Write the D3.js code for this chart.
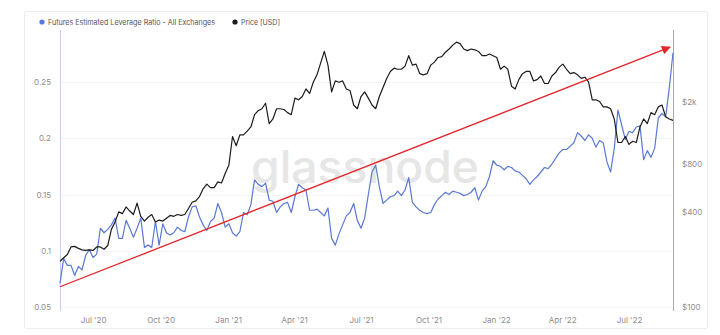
<!DOCTYPE html>
<html>
<head>
<meta charset="utf-8">
<script src="https://cdn.jsdelivr.net/npm/d3@7"></script>
<style>
  html, body { margin: 0; padding: 0; background: #fff; }
  svg { display: block; font-family: Inter, "Noto Sans", sans-serif; }
</style>
</head>
<body>
<svg id="chart" width="720" height="335"></svg>
<script>
// Sampling: one value every 5 days starting from the first day
const firstDay = "2020-05-17";
const stepDays = 5;

// Futures Estimated Leverage Ratio - All Exchanges (ETH)
const leverage = [
  0.071,0.093,0.087,0.087,0.078,0.086,0.083,0.096,0.101,0.094,
  0.097,0.120,0.116,0.119,0.123,0.129,0.111,0.111,0.127,0.120,
  0.112,0.120,0.129,0.103,0.105,0.103,0.126,0.105,0.124,0.116,
  0.114,0.116,0.121,0.118,0.117,0.130,0.139,0.140,0.130,0.123,
  0.118,0.126,0.129,0.142,0.134,0.121,0.124,0.116,0.113,0.117,
  0.134,0.132,0.141,0.163,0.159,0.157,0.160,0.145,0.144,0.134,
  0.139,0.142,0.143,0.134,0.148,0.159,0.156,0.154,0.136,0.136,
  0.137,0.134,0.131,0.138,0.111,0.105,0.115,0.123,0.131,0.134,
  0.142,0.127,0.120,0.129,0.150,0.170,0.176,0.157,0.142,0.145,
  0.148,0.149,0.153,0.149,0.154,0.165,0.143,0.139,0.136,0.134,
  0.133,0.134,0.141,0.146,0.149,0.152,0.150,0.153,0.152,0.151,
  0.149,0.150,0.152,0.156,0.145,0.153,0.157,0.166,0.180,0.176,
  0.175,0.172,0.175,0.174,0.171,0.170,0.167,0.164,0.159,0.163,
  0.166,0.170,0.174,0.173,0.177,0.182,0.187,0.190,0.190,0.193,
  0.196,0.205,0.202,0.198,0.203,0.200,0.192,0.198,0.196,0.179,
  0.170,0.191,0.225,0.212,0.199,0.206,0.205,0.210,0.211,0.181,
  0.189,0.183,0.191,0.218,0.222,0.219,0.245,0.276
];

// Price [USD]
const priceUsd = [
  195,205,215,240,242,235,230,228,230,228,
  240,240,232,245,310,345,400,390,430,405,
  385,455,375,350,370,385,345,355,350,365,
  380,375,385,380,385,420,460,470,500,560,
  600,570,570,620,610,700,790,1200,1050,1230,
  1230,1300,1380,1650,1750,1800,1950,1450,1550,1800,
  1800,1780,1700,1650,2100,2050,2150,2400,2250,2650,
  2950,3500,4150,3400,2300,2700,2650,2700,2400,2350,
  1900,1800,2150,2300,2100,1900,1800,2150,2450,2800,
  3100,3250,3200,3200,3350,3900,3400,3450,3000,2950,
  3000,3400,3550,3800,3850,4100,4300,4550,4750,4650,
  4300,4200,4300,4250,4150,3900,3900,4000,3900,3800,
  3200,3350,3200,2500,2400,2750,3000,3100,3100,2700,
  2750,2900,2600,2600,2900,3050,3300,3450,3200,3000,
  3050,2950,2800,2850,2650,2050,2050,2000,1850,1850,
  1800,1550,1100,1100,1200,1070,1120,1100,1380,1550,
  1450,1700,1650,1850,1900,1600,1550,1520
];

const seriesNames = ["Futures Estimated Leverage Ratio - All Exchanges", "Price [USD]"];
const seriesColors = ["#5a78d6", "#1c1c1c"];

const leverageTicks = [0.05, 0.1, 0.15, 0.2, 0.25];
const leverageTickLabels = ["0.05", "0.1", "0.15", "0.2", "0.25"];
const priceTicks = [100, 400, 800, 2000];
const priceTickLabels = ["$100", "$400", "$800", "$2k"];
const monthTicks = ["2020-07-01","2020-10-01","2021-01-01","2021-04-01","2021-07-01",
                    "2021-10-01","2022-01-01","2022-04-01","2022-07-01"];
const monthTickLabels = ["Jul '20","Oct '20","Jan '21","Apr '21","Jul '21",
                         "Oct '21","Jan '22","Apr '22","Jul '22"];

// Trend arrow drawn against the leverage axis: [day, ratio]
const trendArrow = [["2020-05-17", 0.068], ["2022-08-26", 0.281]];

const parseDay = d3.utcParse("%Y-%m-%d");
const start = parseDay(firstDay);
const dates = leverage.map((_, i) => d3.utcDay.offset(start, i * stepDays));

const plot = { left: 60, right: 673, top: 30, bottom: 311 };

const svg = d3.select("#chart");

const x = d3.scaleUtc()
  .domain([dates[0], dates[dates.length - 1]])
  .range([plot.left, plot.right]);
const yLev = d3.scaleLinear().domain([0.05, 0.25]).range([307, 82]);
const yPrice = d3.scaleLog().domain([100, 2000]).range([307, 101.5]);

// card frame
svg.append("rect")
  .attr("x", 24.5).attr("y", 11.5).attr("width", 683).attr("height", 317)
  .attr("rx", 2).attr("fill", "#fff").attr("stroke", "#ececec");

// faint horizontal grid
svg.append("g").selectAll("line").data(leverageTicks).join("line")
  .attr("x1", plot.left).attr("x2", plot.right)
  .attr("y1", d => Math.round(yLev(d)) + 0.5).attr("y2", d => Math.round(yLev(d)) + 0.5)
  .attr("stroke", "#f4f4f4");

// watermark
svg.append("text")
  .attr("x", 365).attr("y", 183)
  .attr("text-anchor", "middle")
  .attr("font-size", 45).attr("font-weight", 500)
  .attr("textLength", 228).attr("lengthAdjust", "spacingAndGlyphs")
  .attr("fill", "#e6e6e6")
  .text("glassnode");

// axis lines
svg.append("line")
  .attr("x1", plot.left + 0.5).attr("x2", plot.left + 0.5)
  .attr("y1", plot.top).attr("y2", plot.bottom)
  .attr("stroke", "#c8ccef");
svg.append("line")
  .attr("x1", plot.right + 0.5).attr("x2", plot.right + 0.5)
  .attr("y1", plot.top).attr("y2", plot.bottom)
  .attr("stroke", "#a8a8a8");

// left axis
const leftAxis = svg.append("g")
  .attr("transform", `translate(${plot.left - 1},0)`)
  .call(d3.axisLeft(yLev).tickValues(leverageTicks)
    .tickFormat((d, i) => leverageTickLabels[i]).tickSize(0).tickPadding(8));
// right axis
const rightAxis = svg.append("g")
  .attr("transform", `translate(${plot.right},0)`)
  .call(d3.axisRight(yPrice).tickValues(priceTicks)
    .tickFormat((d, i) => priceTickLabels[i]).tickSize(0).tickPadding(9));
// bottom axis
const bottomAxis = svg.append("g")
  .attr("transform", `translate(0,${plot.bottom})`)
  .call(d3.axisBottom(x).tickValues(monthTicks.map(parseDay))
    .tickFormat((d, i) => monthTickLabels[i]).tickSize(0).tickPadding(6));

[leftAxis, rightAxis, bottomAxis].forEach(g => {
  g.select(".domain").remove();
  g.selectAll("text")
    .attr("fill", "#8c8c8c")
    .attr("font-size", 8)
    .attr("font-family", "Inter, 'Noto Sans', sans-serif");
});

// series lines
const levLine = d3.line()
  .x((d, i) => x(dates[i]))
  .y(d => yLev(d));
const priceLine = d3.line()
  .x((d, i) => x(dates[i]))
  .y(d => yPrice(d));

svg.append("path").datum(leverage)
  .attr("d", levLine).attr("fill", "none")
  .attr("stroke", seriesColors[0]).attr("stroke-width", 1.2)
  .attr("stroke-linejoin", "round");
svg.append("path").datum(priceUsd)
  .attr("d", priceLine).attr("fill", "none")
  .attr("stroke", seriesColors[1]).attr("stroke-width", 1.2)
  .attr("stroke-linejoin", "round");

// trend arrow
svg.append("defs").append("marker")
  .attr("id", "arrowHead")
  .attr("viewBox", "0 0 10 10")
  .attr("refX", 9).attr("refY", 5)
  .attr("markerWidth", 12).attr("markerHeight", 9)
  .attr("markerUnits", "userSpaceOnUse")
  .attr("orient", "auto")
  .append("path").attr("d", "M0,0L10,5L0,10Z").attr("fill", "#e3262b");

svg.append("line")
  .attr("x1", x(parseDay(trendArrow[0][0]))).attr("y1", yLev(trendArrow[0][1]))
  .attr("x2", x(parseDay(trendArrow[1][0]))).attr("y2", yLev(trendArrow[1][1]))
  .attr("stroke", "#e3262b").attr("stroke-width", 1.3)
  .attr("marker-end", "url(#arrowHead)");

// legend
const legend = svg.append("g").attr("transform", "translate(42,22)");
const legendOffsets = [0, 193];
const legendTextWidths = [167, 39];
seriesNames.forEach((name, i) => {
  const g = legend.append("g").attr("transform", `translate(${legendOffsets[i]},0)`);
  g.append("circle").attr("r", 2.6).attr("fill", seriesColors[i]);
  g.append("text").attr("x", 6).attr("dy", "0.35em")
    .attr("font-size", 7.4).attr("fill", "#555")
    .attr("textLength", legendTextWidths[i]).attr("lengthAdjust", "spacingAndGlyphs")
    .text(name);
});
</script>
</body>
</html>
